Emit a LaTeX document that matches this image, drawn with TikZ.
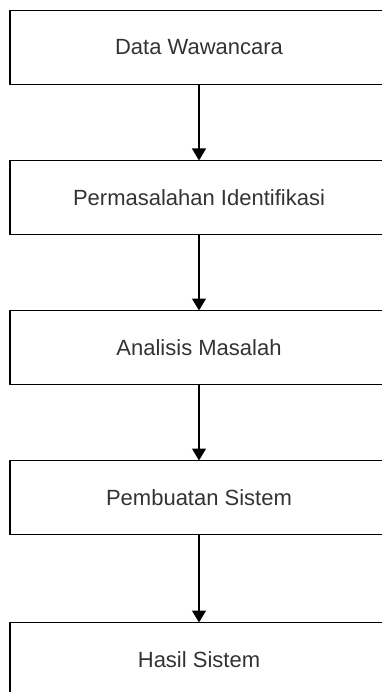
\documentclass[tikz,border=0pt]{standalone}
\usepackage{fontspec}
\setmainfont{Liberation Sans}
\usetikzlibrary{arrows.meta,positioning}
\definecolor{FlowText}{HTML}{333333}

\begin{document}
\begin{tikzpicture}[
	x=1pt, y=1pt,
	node distance=76pt,
	box/.style={draw, line width=1.5pt, minimum width=378pt, minimum height=74pt, inner sep=0pt, outer sep=0pt, text=FlowText, font=\fontsize{22}{26}\selectfont},
	arrow/.style={-{Triangle[width=14pt,length=12pt]}, line width=1.5pt}
]
\useasboundingbox (0,0) rectangle (382,-692);

\node[box] (wawancara) at (199,-47.5) {Data Wawancara};
\node[box, below=of wawancara] (identifikasi) {Permasalahan Identifikasi};
\node[box, below=of identifikasi] (analisis) {Analisis Masalah};
\node[box, below=of analisis] (pembuatan) {Pembuatan Sistem};
\node[box, below=88pt of pembuatan] (hasil) {Hasil Sistem};

\draw[arrow] (wawancara) -- (identifikasi);
\draw[arrow] (identifikasi) -- (analisis);
\draw[arrow] (analisis) -- (pembuatan);
\draw[arrow] (pembuatan) -- (hasil);
\end{tikzpicture}
\end{document}
